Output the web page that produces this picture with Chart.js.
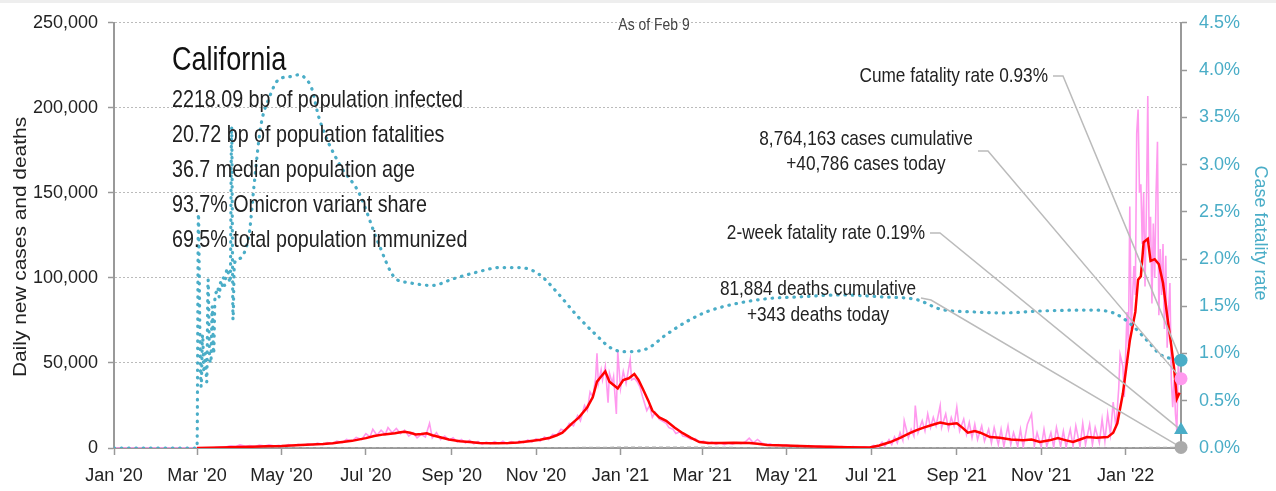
<!DOCTYPE html>
<html>
<head>
<meta charset="utf-8">
<script src="https://cdn.jsdelivr.net/npm/chart.js@4.4.1/dist/chart.umd.min.js"></script>
<style>
  html, body { margin: 0; padding: 0; background: #fff; }
  #wrap { width: 1276px; height: 491px; }
</style>
</head>
<body>
<div id="wrap"><canvas id="myChart" width="1276" height="491"></canvas></div>
<script>
// x values are days since Jan 1 2020
const tickDays = [0, 60, 121, 182, 244, 305, 366, 425, 486, 547, 609, 670, 731];
const tickLabels = ["Jan '20", "Mar '20", "May '20", "Jul '20", "Sep '20", "Nov '20",
    "Jan '21", "Mar '21", "May '21", "Jul '21", "Sep '21", "Nov '21", "Jan '22"];
const lastDay = 771;

// daily new cases (pink)
const dailyDays = [0, 59, 66, 73, 77, 80, 84, 88, 91, 95, 98, 102, 105, 109, 112, 116, 119, 123, 126, 130,
    133, 137, 140, 144, 147, 151, 154, 158, 161, 165, 168, 172, 175, 179, 182, 185, 187, 190, 193, 196,
    198, 201, 204, 207, 210, 213, 216, 219, 222, 225, 228, 230, 233, 236, 239, 242, 245, 248, 251, 254,
    257, 260, 263, 266, 269, 272, 275, 278, 281, 284, 287, 290, 293, 296, 299, 302, 305, 308, 311, 314,
    317, 320, 323, 326, 329, 332, 335, 337, 340, 342, 344, 346, 348, 349, 350, 352, 353, 355, 357, 358,
    360, 361, 363, 364, 366, 368, 370, 373, 374, 376, 378, 380, 382, 385, 387, 389, 391, 394, 396, 399,
    401, 404, 406, 409, 411, 414, 417, 420, 423, 426, 429, 432, 435, 438, 441, 444, 447, 450, 453, 456,
    459, 462, 465, 468, 471, 474, 477, 480, 483, 486, 490, 494, 498, 502, 506, 510, 514, 518, 522, 526,
    530, 534, 538, 542, 546, 549, 552, 555, 557, 560, 562, 564, 566, 568, 570, 571, 574, 576, 578, 579,
    581, 584, 586, 588, 590, 592, 594, 597, 598, 601, 603, 605, 607, 609, 611, 614, 616, 618, 620, 622,
    624, 627, 629, 632, 634, 636, 639, 641, 643, 646, 648, 650, 653, 655, 657, 660, 663, 665, 667, 670,
    672, 674, 677, 679, 681, 684, 686, 688, 691, 693, 695, 698, 700, 702, 705, 707, 709, 712, 714, 716,
    718, 720, 722, 724, 726, 727, 729, 730, 732, 733, 734, 735, 737, 738, 739, 740, 741, 742, 743, 744,
    745, 746, 747, 748, 749, 750, 751, 752, 753, 754, 755, 756, 757, 758, 759, 760, 761, 762, 763, 764,
    765, 766, 767, 768, 769, 770];
const dailyCases = [0, 0, 100, 300, 600, 400, 1300, 900, 1800, 1000, 1400, 900, 1700, 1100, 1900, 1200, 1600, 1000, 2000, 1300,
    2200, 1500, 2400, 1800, 2900, 2000, 3200, 2600, 4000, 3200, 5000, 4000, 6200, 5000, 8500, 6500, 11000, 7500, 10500, 8000,
    12000, 9000, 11500, 8500, 10500, 7000, 9000, 6000, 8000, 6500, 14500, 6000, 9000, 5000, 7000, 4500, 6000, 3500, 5000, 3000,
    4500, 2500, 3800, 2200, 3500, 2500, 3800, 2600, 4000, 2500, 3800, 2800, 4200, 3000, 4800, 3500, 5500, 4000, 6500, 5000,
    8000, 7500, 11000, 10000, 14500, 13000, 19000, 16000, 25000, 22000, 33000, 30000, 41000, 55700, 38000, 46000, 40000, 48000, 26700, 44000,
    38000, 42000, 20000, 57000, 35000, 45000, 38000, 52000, 40000, 41000, 39000, 36000, 30000, 22000, 25000, 18000, 21000, 17000, 16000, 14500,
    12000, 11000, 8500, 9500, 7000, 6500, 5000, 5500, 3500, 4000, 2500, 3500, 2200, 3200, 2000, 3000, 2200, 3200, 2500, 3500,
    5800, 3000, 5000, 3000, 2000, 2500, 1500, 2000, 1200, 1800, 1000, 1500, 900, 1400, 800, 1200, 600, 1000, 500, 900,
    400, 800, 300, 700, 300, 1500, 500, 3500, 1000, 5000, 2000, 6500, 3000, 9000, 4500, 16000, 6000, 11000, 7000, 25000,
    9000, 16000, 10000, 20000, 12000, 18000, 13000, 25000, 12000, 20000, 11000, 18000, 13000, 24000, 10000, 17000, 8000, 15000, 6000, 14000,
    5000, 13000, 4000, 11000, 3000, 12000, 2000, 11000, 1000, 13000, 2000, 9000, 1000, 11000, 500, 14000, 20000, 1000, 9000, 500,
    11000, 1000, 9000, 500, 12000, 1000, 10000, 500, 11000, 1000, 13000, 1000, 14500, 2000, 14000, 2000, 12000, 3000, 17000, 4000,
    20000, 8000, 27000, 12000, 35000, 55000, 48000, 30000, 80000, 60000, 142000, 70000, 107000, 90000, 185000, 199000, 150000, 155000, 120000, 150000,
    95000, 140000, 207000, 120000, 136000, 85000, 132000, 100000, 150000, 180000, 78000, 117000, 90000, 120000, 70000, 113000, 59000, 80000, 97000, 40000,
    24000, 40000, 20000, 10000, 49000, 40786];

// 7-day average of new cases (red)
const avgDays = [60, 77, 90, 100, 110, 121, 135, 151, 158, 165, 172, 182, 188, 195, 203, 207, 210, 214, 218, 222,
    226, 230, 235, 242, 250, 257, 264, 275, 285, 292, 300, 308, 315, 320, 324, 331, 336, 342, 346, 349,
    352, 355, 358, 361, 364, 368, 372, 376, 379, 382, 386, 389, 394, 399, 405, 411, 417, 423, 430, 438,
    448, 459, 465, 472, 485, 496, 507, 517, 530, 546, 553, 561, 568, 575, 580, 585, 591, 597, 603, 609,
    613, 617, 622, 626, 633, 640, 648, 657, 663, 669, 676, 682, 688, 693, 698, 703, 710, 718, 722, 725,
    729, 734, 738, 740, 742, 744, 747, 749, 752, 755, 758, 761, 764, 766, 768, 770];
const avgCases = [0, 300, 600, 800, 1000, 1200, 1800, 2300, 2800, 3500, 4200, 5800, 7000, 8000, 8700, 9300, 9500, 9000, 8000, 8300,
    8700, 7500, 6500, 5000, 4000, 3500, 3000, 2800, 2900, 3200, 4000, 4800, 6000, 7500, 9000, 14500, 18000, 24000, 30000, 39000,
    42000, 45000, 39000, 37000, 35000, 40000, 41000, 43500, 40000, 35000, 28000, 22000, 18000, 16000, 12000, 8700, 6000, 3500, 3000, 2900,
    3100, 3000, 2500, 1700, 1400, 1200, 900, 700, 500, 300, 1500, 3500, 6000, 8700, 10500, 12000, 13500, 15000, 14000, 14500,
    12000, 9000, 10000, 9000, 6400, 6000, 5000, 4600, 5000, 3500, 4500, 5800, 4500, 3500, 5000, 6400, 6000, 6400, 9000, 14500,
    32000, 63000, 80000, 99000, 101000, 121000, 123000, 110000, 111000, 108000, 97000, 78000, 60000, 47000, 29000, 32500];

// daily new deaths (grey)
const deathDays = [60, 120, 200, 250, 300, 350, 380, 400, 420, 450, 500, 550, 600, 640, 700, 740, 760, 770];
const dailyDeaths = [0, 80, 110, 90, 60, 300, 500, 400, 500, 200, 80, 30, 100, 80, 70, 200, 300, 343];

// case fatality rate, % (teal, right axis)
const cfrDays = [0, 60, 61, 62, 63, 64, 65, 66, 67, 68, 69, 70, 71, 72, 73, 74, 75, 76, 77, 78,
    79, 80, 81, 82, 83, 84, 85, 86, 87, 90, 95, 98, 101, 106, 112, 119, 127, 134, 137, 143,
    148, 163, 177, 191, 203, 213, 230, 245, 262, 279, 293, 307, 320, 334, 346, 360, 370, 385, 399, 414,
    428, 447, 472, 496, 525, 554, 580, 597, 621, 643, 669, 705, 722, 734, 747, 756, 766, 770];
const cfrValues = [0, 0, 2.48, 1.3, 0.65, 1.2, 0.8, 1.0, 0.7, 1.78, 1.0, 0.9, 1.5, 1.0, 1.6, 1.65, 1.7, 1.6, 1.75, 1.7,
    1.8, 1.72, 1.85, 1.9, 1.8, 1.75, 3.4, 1.36, 1.95, 2.0, 2.1, 2.3, 2.75, 3.4, 3.7, 3.9, 3.93, 3.95, 3.93, 3.8,
    3.5, 3.0, 2.7, 2.17, 1.8, 1.75, 1.72, 1.79, 1.86, 1.91, 1.91, 1.84, 1.65, 1.41, 1.23, 1.05, 1.02, 1.05, 1.2, 1.34,
    1.44, 1.52, 1.58, 1.6, 1.62, 1.6, 1.57, 1.47, 1.44, 1.43, 1.45, 1.46, 1.43, 1.32, 1.13, 0.99, 0.94, 0.93];

// latest figures
const cumeFatalityRate = 0.93;
const twoWeekFatalityRate = 0.19;
const casesToday = 40786;
const deathsToday = 343;
const casesCumulative = '8,764,163';
const deathsCumulative = '81,884';
const statLines = ['2218.09 bp of population infected', '20.72 bp of population fatalities',
    '36.7 median population age', '93.7% Omicron variant share', '69.5% total population immunized'];

const TEAL = '#4aadc7';
const PINK = '#ff99ee';
const INK = '#222';
const NARROW = 0.82;

const pts = (xs, ys) => xs.map((x, i) => ({ x: x, y: ys[i] }));
const fmt = (v) => new Intl.NumberFormat('en-US').format(v);

function txt(ctx, s, x, y, size, align, color, sx) {
    ctx.save();
    ctx.font = size + 'px "Liberation Sans", Arial, sans-serif';
    ctx.fillStyle = color || INK;
    ctx.textBaseline = 'middle';
    ctx.textAlign = align;
    ctx.translate(x, y);
    ctx.scale(sx || NARROW, 1);
    ctx.fillText(s, 0, 0);
    ctx.restore();
}

const annotate = {
    id: 'annotate',
    beforeDraw(chart) {
        const ctx = chart.ctx;
        ctx.save();
        ctx.fillStyle = '#fff';
        ctx.fillRect(0, 0, chart.width, chart.height);
        ctx.fillStyle = '#eeeeee';
        ctx.fillRect(0, 0, chart.width, 3);
        ctx.restore();
    },
    afterDatasetDraw(chart, args) {
        if (chart.data.datasets[args.index].label !== 'Case fatality rate') return;
        const { ctx, scales } = chart;
        const xe = scales.x.getPixelForValue(lastDay);
        const leaders = [
            [1053, 76, 1063, 76, scales.y1.getPixelForValue(cumeFatalityRate)],
            [978, 151, 988, 151, scales.y.getPixelForValue(casesToday)],
            [930, 233, 940, 233, scales.y1.getPixelForValue(twoWeekFatalityRate)],
            [921, 298, 931, 300, scales.y.getPixelForValue(deathsToday)]
        ];
        ctx.save();
        ctx.strokeStyle = '#bbbbbb';
        ctx.lineWidth = 1.5;
        leaders.forEach(([x0, y0, x1, y1, ye]) => {
            ctx.beginPath();
            ctx.moveTo(x0, y0);
            ctx.lineTo(x1, y1);
            ctx.lineTo(xe, ye);
            ctx.stroke();
        });
        ctx.restore();
    },
    afterDraw(chart) {
        const ctx = chart.ctx;
        txt(ctx, 'As of Feb 9', 654, 25, 17, 'center', '#444');
        txt(ctx, 'California', 172, 61, 33, 'left', '#111');
        statLines.forEach((s, i) => txt(ctx, s, 172, 100 + i * 35, 24, 'left'));
        txt(ctx, 'Cume fatality rate ' + cumeFatalityRate.toFixed(2) + '%', 1048, 76, 21, 'right');
        txt(ctx, casesCumulative + ' cases cumulative', 866, 139, 21, 'center');
        txt(ctx, '+' + fmt(casesToday) + ' cases today', 866, 164, 21, 'center');
        txt(ctx, '2-week fatality rate ' + twoWeekFatalityRate.toFixed(2) + '%', 925, 233, 21, 'right');
        txt(ctx, deathsCumulative + ' deaths cumulative', 818, 289, 21, 'center');
        txt(ctx, '+' + deathsToday + ' deaths today', 818, 315, 21, 'center');

        // axis titles
        ctx.save();
        ctx.translate(21, 247);
        ctx.rotate(-Math.PI / 2);
        txt(ctx, 'Daily new cases and deaths', 0, 0, 19, 'center', INK, 1.1);
        ctx.restore();
        ctx.save();
        ctx.translate(1260, 233);
        ctx.rotate(Math.PI / 2);
        txt(ctx, 'Case fatality rate', 0, 0, 18, 'center', TEAL, 1);
        ctx.restore();
    }
};

document.addEventListener('DOMContentLoaded', () => {
    const ctx = document.getElementById('myChart').getContext('2d');
    const tickFont = { family: '"Liberation Sans", Arial, sans-serif', size: 18 };

    new Chart(ctx, {
        type: 'line',
        data: {
            datasets: [
                {
                    label: 'Daily deaths', data: pts(deathDays, dailyDeaths), yAxisID: 'y',
                    borderColor: '#aaaaaa', borderWidth: 1.5, borderDash: [4, 3], pointRadius: 0, order: 6
                },
                {
                    label: 'Daily cases', data: pts(dailyDays, dailyCases), yAxisID: 'y',
                    borderColor: PINK, borderWidth: 1.6, pointRadius: 0, order: 5
                },
                {
                    label: '7-day average', data: pts(avgDays, avgCases), yAxisID: 'y',
                    borderColor: '#ff0000', borderWidth: 2.5, pointRadius: 0, order: 4
                },
                {
                    label: 'Case fatality rate', data: pts(cfrDays, cfrValues), yAxisID: 'y1',
                    borderColor: TEAL, borderWidth: 3.2, borderDash: [0.5, 6.8], borderCapStyle: 'round',
                    cubicInterpolationMode: 'monotone', pointRadius: 0, order: 3
                },
                {
                    label: 'Deaths today', data: [{ x: lastDay, y: deathsToday }], yAxisID: 'y',
                    pointRadius: 6.5, pointBackgroundColor: '#aaaaaa', pointBorderWidth: 0, showLine: false, clip: false, order: 2
                },
                {
                    label: '2-week fatality rate', data: [{ x: lastDay, y: twoWeekFatalityRate }], yAxisID: 'y1',
                    pointStyle: 'triangle', pointRadius: 8, pointBackgroundColor: TEAL, pointBorderWidth: 0,
                    showLine: false, clip: false, order: 1
                },
                {
                    label: 'Cases today', data: [{ x: lastDay, y: casesToday }], yAxisID: 'y',
                    pointRadius: 6.5, pointBackgroundColor: PINK, pointBorderWidth: 0, showLine: false, clip: false, order: 1
                },
                {
                    label: 'Cume fatality rate', data: [{ x: lastDay, y: cumeFatalityRate }], yAxisID: 'y1',
                    pointRadius: 6.5, pointBackgroundColor: TEAL, pointBorderWidth: 0, showLine: false, clip: false, order: 0
                }
            ]
        },
        options: {
            responsive: false,
            animation: false,
            devicePixelRatio: 1,
            layout: { padding: { top: 17, left: 0, right: 0, bottom: 0 } },
            plugins: { legend: { display: false }, tooltip: { enabled: false } },
            scales: {
                x: {
                    type: 'linear', min: 0, max: lastDay,
                    afterBuildTicks: (scale) => { scale.ticks = tickDays.map(v => ({ value: v })); },
                    afterFit: (scale) => { scale.height = 43; },
                    ticks: {
                        callback: (v) => tickLabels[tickDays.indexOf(v)],
                        font: tickFont, color: INK, padding: 10, maxRotation: 0, autoSkip: false
                    },
                    grid: { drawOnChartArea: false, tickLength: 7, tickColor: '#999', tickWidth: 1.5 },
                    border: { color: '#999', width: 2 }
                },
                y: {
                    position: 'left', min: 0, max: 250000,
                    afterFit: (scale) => { scale.width = 114; },
                    ticks: { stepSize: 50000, font: tickFont, color: INK, padding: 10,
                        callback: (v) => fmt(v) },
                    grid: { color: '#bbbbbb', lineWidth: 1, tickLength: 6, tickColor: '#999', tickWidth: 1.5 },
                    border: { color: '#999', width: 2, dash: [2, 2] }
                },
                y1: {
                    position: 'right', min: 0, max: 4.5,
                    afterFit: (scale) => { scale.width = 95; },
                    ticks: { stepSize: 0.5, font: tickFont, color: TEAL, padding: 12,
                        callback: (v) => v.toFixed(1) + '%' },
                    grid: { drawOnChartArea: false, tickLength: 6, tickColor: '#999', tickWidth: 1.5 },
                    border: { color: '#999', width: 2 }
                }
            }
        },
        plugins: [annotate]
    });
});
</script>
</body>
</html>
